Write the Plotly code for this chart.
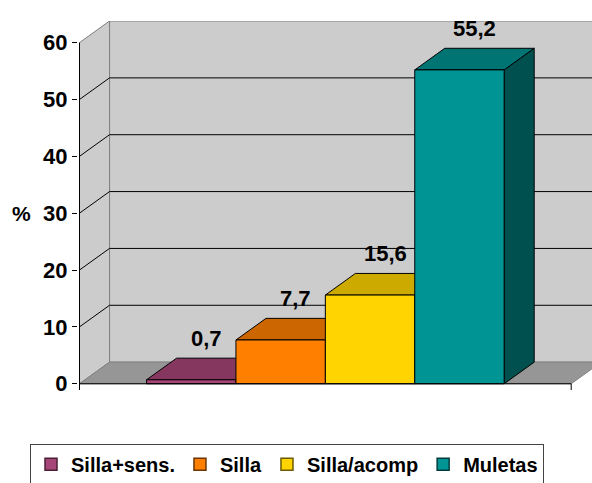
import plotly.graph_objects as go

# ---- data ----
categories = ["Silla+sens.", "Silla", "Silla/acomp", "Muletas"]
values = [0.7, 7.7, 15.6, 55.2]
value_labels = ["0,7", "7,7", "15,6", "55,2"]
y_ticks = [0, 10, 20, 30, 40, 50, 60]
y_tick_labels = ["0", "10", "20", "30", "40", "50", "60"]
axis_title = "%"

# ---- styles ----
front_colors = ["#A64577", "#FF8000", "#FFD400", "#009494"]
top_colors = ["#86375F", "#CC6600", "#CCAA00", "#007373"]
side_colors = ["#5E2743", "#8F4700", "#8F7700", "#005050"]
legend_edges = ["#4A1F35", "#6B3500", "#6B5A00", "#003C3C"]
WALL = "#CCCCCC"
FLOOR = "#969696"
EDGE = "#808080"
FONT = "Arial, Liberation Sans, sans-serif"

W, H = 592, 483
HALF_GAP = 0.75          # gap on each side of the bar group (bar widths)
DX, DY = 0.336, 3.8      # depth offset (x in bar widths, y in %)
PX_X, PX_Y = 89.4, 5.683 # pixels per unit
LEFT = 78
ZERO_PX = 384
Y_LO, Y_HI = -1.1, max(y_ticks) + DY
X0 = -HALF_GAP
X1 = len(values) + HALF_GAP
x_start = X0 - 1.5 / PX_X
x_end = x_start + (W - LEFT) / PX_X
top_m = ZERO_PX - Y_HI * PX_Y
bot_m = H - (ZERO_PX - Y_LO * PX_Y)
YMAX = max(y_ticks)

fig = go.Figure()


def poly(xs, ys, fill, line_color, lw=1):
    fig.add_trace(go.Scatter(
        x=xs + [xs[0]], y=ys + [ys[0]], mode="lines", fill="toself",
        fillcolor=fill, line=dict(color=line_color, width=lw),
        hoverinfo="skip", showlegend=False))


def line(xs, ys, color, lw=1):
    fig.add_trace(go.Scatter(
        x=xs, y=ys, mode="lines", line=dict(color=color, width=lw),
        hoverinfo="skip", showlegend=False))


# back wall
poly([X0 + DX, X1 + DX, X1 + DX, X0 + DX], [DY, DY, YMAX + DY, YMAX + DY], WALL, EDGE)
# left wall
poly([X0, X0, X0 + DX, X0 + DX], [0, YMAX, YMAX + DY, DY], WALL, EDGE)
# floor
poly([X0, X1, X1 + DX, X0 + DX], [0, 0, DY, DY], FLOOR, EDGE)
# gridlines
for v in y_ticks[1:-1]:
    line([X0, X0 + DX, X1 + DX], [v, v + DY, v + DY], "#000000", 1)

# 3D bars
for i, v in enumerate(values):
    xl, xr = i, i + 1
    poly([xr, xr + DX, xr + DX, xr], [0, DY, v + DY, v], side_colors[i], "#000000")
    poly([xl, xr, xr + DX, xl + DX], [v, v, v + DY, v + DY], top_colors[i], "#000000")
    poly([xl, xr, xr, xl], [0, 0, v, v], front_colors[i], "#000000")

# axis lines
line([X0, X1], [0, 0], "#000000", 1)
line([X0, X0], [Y_LO, YMAX], "#000000", 1)
line([X1, X1], [0, Y_LO], "#000000", 1)

# legend entries
for i, c in enumerate(categories):
    fig.add_trace(go.Bar(x=[None], y=[None], name=c,
                         marker=dict(color=front_colors[i],
                                     line=dict(color=legend_edges[i], width=1.5))))

# data labels
for i, (v, t) in enumerate(zip(values, value_labels)):
    fig.add_annotation(x=i + 0.5 + DX / 2, y=v + DY, text=t, showarrow=False,
                       yanchor="bottom", yshift=5,
                       font=dict(size=22, color="#000000", family=FONT, weight="bold"))

fig.add_annotation(xref="paper", x=0, xanchor="right", xshift=-(LEFT - 33),
                   yref="y", y=30, text=axis_title, showarrow=False,
                   font=dict(size=21, color="#000000", family=FONT, weight="bold"))

legend_x = (30 - LEFT) / (W - LEFT)
plot_h = H - top_m - bot_m
legend_y = (H - bot_m - 444) / plot_h

fig.update_layout(
    width=W, height=H,
    margin=dict(l=LEFT, r=0, t=top_m, b=bot_m, autoexpand=False),
    paper_bgcolor="white", plot_bgcolor="white",
    font=dict(family=FONT, color="#000000", weight="bold"),
    showlegend=True,
    legend=dict(orientation="h", x=legend_x, xanchor="left", y=legend_y, yanchor="top",
                bordercolor="#444444", borderwidth=1, bgcolor="white",
                font=dict(size=20, family=FONT, color="#000000", weight="bold"),
                itemwidth=30, traceorder="normal"),
    xaxis=dict(range=[x_start, x_end], visible=False, fixedrange=True),
    yaxis=dict(range=[Y_LO, Y_HI], tickvals=y_ticks, ticktext=y_tick_labels,
               ticks="outside", ticklen=5, tickcolor="#000000", tickwidth=1,
               showgrid=False, zeroline=False, showline=False, fixedrange=True,
               tickfont=dict(size=22, family=FONT, color="#000000", weight="bold")),
    bargap=0,
)

fig.write_html("out.html", config={"displayModeBar": False},
               post_script="document.body.style.margin='0px';")
